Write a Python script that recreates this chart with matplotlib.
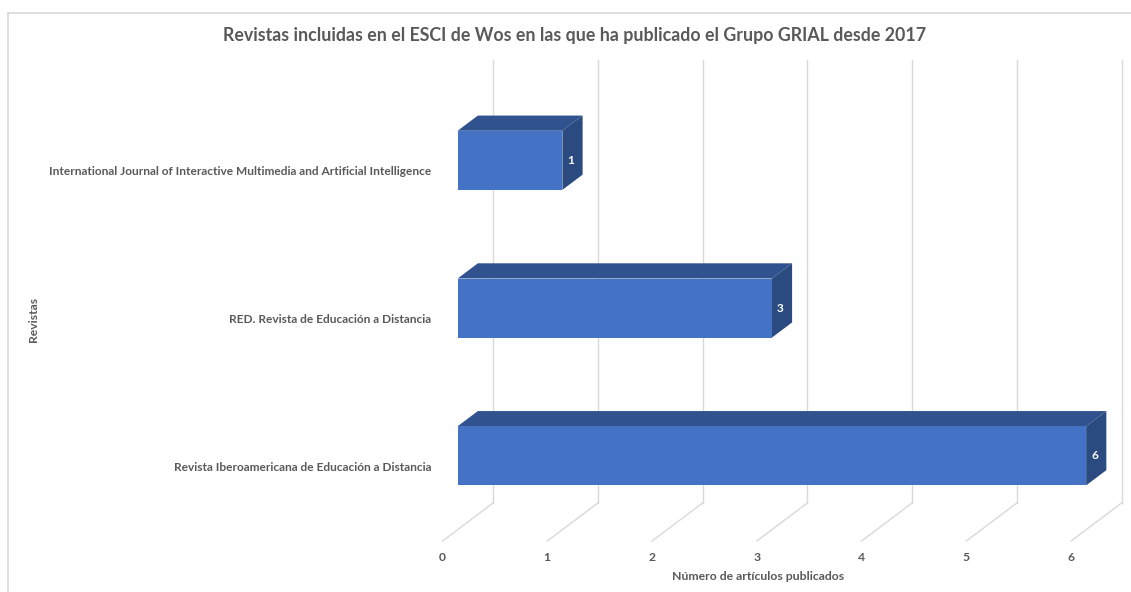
import matplotlib
matplotlib.use("Agg")
from matplotlib import pyplot as plt
from matplotlib.patches import Polygon
from matplotlib.lines import Line2D

revistas = [
    "International Journal of Interactive Multimedia and Artificial Intelligence",
    "RED. Revista de Educación a Distancia",
    "Revista Iberoamericana de Educación a Distancia",
]
articulos = [1, 3, 6]
ticks = [0, 1, 2, 3, 4, 5, 6]

title = "Revistas incluidas en el ESCI de Wos en las que ha publicado el Grupo GRIAL desde 2017"
xlabel = "Número de artículos publicados"
ylabel = "Revistas"

front = "#4472C4"
top = "#30538F"
side = "#2A4A80"
grid = "#D9D9D9"
txt = "#595959"
plt.rcParams['font.family'] = ['Lato', 'DejaVu Sans']

W, H = 1131, 592
fig = plt.figure(figsize=(W / 100, H / 100), dpi=100)
ax = fig.add_axes([0, 0, 1, 1])
ax.axis("off")

# pixel scale of the chart (front plane)
px_x = 104.75
px_y = 147.75
x0_px = 442.5
c0_px = 171.7
ax.set_xlim(-x0_px / px_x, (W - x0_px) / px_x)
ax.set_ylim((H - c0_px) / px_y, -c0_px / px_y)

# depth vector (full depth of the plot box) in data units
ddx = 50.5 / px_x
ddy = -38.0 / px_y

def d(x, y, depth):
    return (x + depth * ddx, y + depth * ddy)

n = len(revistas)
ymin, ymax = -0.5, n - 0.5

# back wall gridlines and floor lines
for k in ticks:
    bx, by1 = d(k, ymax, 1)
    _, by0 = d(k, ymin, 1)
    ax.add_line(Line2D([bx, bx], [by0, by1], color=grid, lw=1, zorder=1))
    fx, fy = d(k, ymax, 0)
    ax.add_line(Line2D([fx, bx], [fy, by1], color=grid, lw=1, zorder=1))
    ax.text(k, ymax + 0.11, str(k), ha="center", va="center",
            fontsize=8.7, fontweight="bold", color=txt)

# bars
half = 0.2
z0, z1 = 0.3, 0.7
for i, (name, v) in enumerate(zip(revistas, articulos)):
    yt, yb = i - half, i + half
    f = [d(0, yt, z0), d(v, yt, z0), d(v, yb, z0), d(0, yb, z0)]
    t = [d(0, yt, z0), d(v, yt, z0), d(v, yt, z1), d(0, yt, z1)]
    s = [d(v, yt, z0), d(v, yt, z1), d(v, yb, z1), d(v, yb, z0)]
    ax.add_patch(Polygon(t, closed=True, fc=top, ec="none", zorder=3))
    ax.add_patch(Polygon(s, closed=True, fc=side, ec="none", zorder=3))
    ax.add_patch(Polygon(f, closed=True, fc=front, ec="none", zorder=4))
    lx, ly = d(v, i, z0)
    ax.annotate(str(v), (lx, ly), xytext=(6, 0), textcoords="offset points",
                ha="center", va="center", fontsize=8.5, fontweight="bold",
                color="white", zorder=5)
    ax.annotate(name, (0, i), xytext=(-8, 0), textcoords="offset points",
                ha="right", va="center", fontsize=8.6, fontweight="bold",
                color=txt)

# titles
fig.text(575 / W, 1 - 35 / H, title, ha="center", va="center",
         fontsize=12.8, fontweight="bold", color=txt)
fig.text(758 / W, 1 - 577 / H, xlabel, ha="center", va="center",
         fontsize=8.8, fontweight="bold", color=txt)
fig.text(33 / W, 1 - 319 / H, ylabel, ha="center", va="center", rotation=90,
         fontsize=8.7, fontweight="bold", color=txt)

# chart area border
fig.add_artist(Line2D([8 / W, 1], [1 - 13 / H, 1 - 13 / H], color=grid, lw=1.2))
fig.add_artist(Line2D([8 / W, 8 / W], [0, 1 - 13 / H], color=grid, lw=1.2))

fig.savefig("out.png", dpi=100, facecolor="white")
